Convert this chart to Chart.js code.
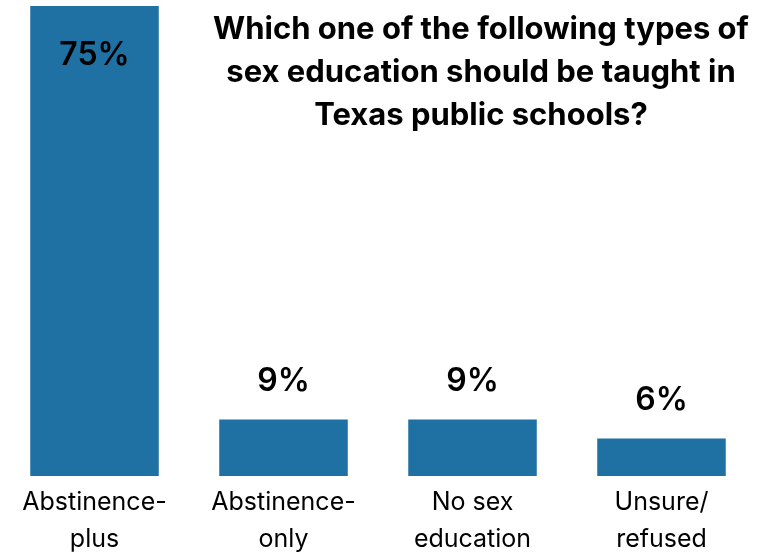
<!DOCTYPE html>
<html>
<head>
<meta charset="utf-8">
<script src="https://cdn.jsdelivr.net/npm/chart.js@4/dist/chart.umd.min.js"></script>
<style>
  html, body { margin: 0; padding: 0; background: #fff; }
  #wrap { width: 759px; height: 555px; }
</style>
</head>
<body>
<div id="wrap"><canvas id="myChart"></canvas></div>
<script>
var categories = [['Abstinence-', 'plus'], ['Abstinence-', 'only'], ['No sex', 'education'], ['Unsure/', 'refused']];
var shares = [75, 9, 9, 6];
var titleLines = ['Which one of the following types of', 'sex education should be taught in', 'Texas public schools?'];

var labelPlugin = {
    id: 'labels',
    afterDatasetsDraw: function(chart){
        var ctx = chart.ctx;
        var meta = chart.getDatasetMeta(0);
        ctx.save();
        ctx.fillStyle = '#000';
        ctx.textAlign = 'center';
        ctx.textBaseline = 'middle';
        ctx.font = '600 32px Inter';
        meta.data.forEach(function(bar, i){
            var y = (i === 0) ? bar.y + 49 : bar.y - 38;
            ctx.fillText(shares[i] + '%', bar.x, y);
        });
        ctx.font = 'bold 31px Inter';
        titleLines.forEach(function(line, i){
            ctx.fillText(line, 481, 30 + i * 43);
        });
        ctx.restore();
    }
};

document.addEventListener('DOMContentLoaded', drawChart);

function drawChart(){
    var ctx = document.getElementById('myChart').getContext('2d');
    new Chart(ctx, {
        type: 'bar',
        data: {
            labels: categories,
            datasets: [{
                data: shares,
                backgroundColor: '#1f70a3',
                barPercentage: 0.68,
                categoryPercentage: 1
            }]
        },
        options: {
            responsive: true,
            maintainAspectRatio: false,
            animation: false,
            layout: {padding: {top: 6, right: 3, left: 0, bottom: -3}},
            plugins: {legend: {display: false}, tooltip: {enabled: false}},
            scales: {
                x: {
                    grid: {display: false},
                    border: {display: false},
                    ticks: {
                        color: '#000',
                        font: {family: 'Inter', size: 25, lineHeight: 1.48},
                        padding: 0,
                        maxRotation: 0,
                        autoSkip: false
                    }
                },
                y: {
                    display: false,
                    min: 0,
                    max: 75
                }
            }
        },
        plugins: [labelPlugin]
    });
}
</script>
</body>
</html>
